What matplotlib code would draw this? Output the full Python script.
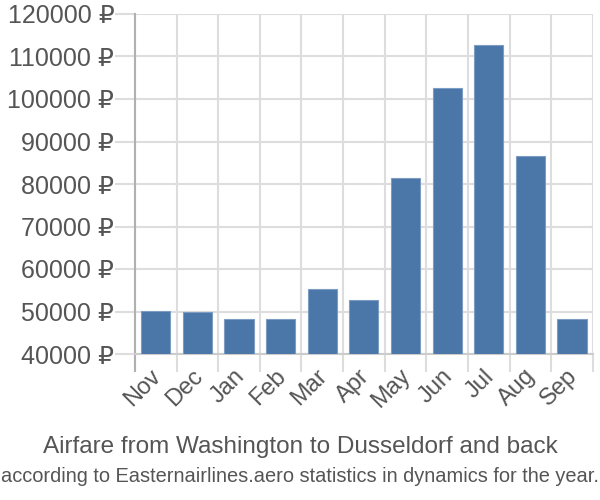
import matplotlib.pyplot as plt
import numpy as np
from matplotlib.ticker import FixedLocator, FuncFormatter
from matplotlib.transforms import ScaledTranslation

months = ['Nov', 'Dec', 'Jan', 'Feb', 'Mar', 'Apr', 'May', 'Jun', 'Jul', 'Aug', 'Sep']
prices = [50100, 50000, 48200, 48300, 55300, 52700, 81500, 102600, 112800, 86500, 48300]
base = 40000

plt.rcParams['font.family'] = ['Liberation Sans', 'DejaVu Sans']
txt = '#555555'
grid = '#dddddd'

fig = plt.figure(figsize=(6, 5), dpi=100)
ax = fig.add_axes([0.225, 0.292, 0.763, 0.68])

x = np.arange(len(months))
heights = [p - base for p in prices]
ax.bar(x, heights, bottom=base, width=0.7, color='#4a76a8', edgecolor='#7d9cc4',
       linewidth=0.8, zorder=3)

ax.set_xlim(-0.5, len(months) - 0.5)
ax.set_ylim(40000, 120000)
ax.set_yticks(np.arange(40000, 120001, 10000))
ax.yaxis.set_major_formatter(FuncFormatter(lambda v, p: '%d \u20bd' % v))

ax.set_xticks(x)
ax.set_xticklabels(months, rotation=45, ha='right', rotation_mode='anchor')
ax.xaxis.set_minor_locator(FixedLocator(np.arange(-0.5, len(months), 1)))
# tick lengths are in points: 18px -> 13pt, 20px -> 14.4pt
ax.tick_params(axis='x', which='major', length=0, pad=8, labelsize=17, labelcolor=txt)
ax.tick_params(axis='x', which='minor', length=13, color=grid, width=1.5)
ax.tick_params(axis='y', length=14.4, color=grid, width=1.5, labelsize=18,
               labelcolor=txt, pad=0.5)
# nudge the rotated month labels a bit to the left
shift = ScaledTranslation(-6 / 100, 0, fig.dpi_scale_trans)
for lab in ax.get_xticklabels():
    lab.set_transform(lab.get_transform() + shift)

ax.grid(True, axis='y', color=grid, linewidth=1.5, zorder=0)
ax.grid(True, axis='x', which='minor', color=grid, linewidth=1.5, zorder=0)

for s in ['top', 'right']:
    ax.spines[s].set_visible(False)
ax.spines['left'].set_color('#b0b0b0')
ax.spines['left'].set_linewidth(1.5)
ax.spines['left'].set_bounds(36000, 120000)
ax.spines['bottom'].set_color('#cccccc')
ax.spines['bottom'].set_linewidth(1.5)

fig.text(0.5, 0.107, 'Airfare from Washington to Dusseldorf and back', ha='center',
         va='center', fontsize=17.5, color=txt)
fig.text(0.5, 0.047, 'according to Easternairlines.aero statistics in dynamics for the year.',
         ha='center', va='center', fontsize=14.4, color=txt)

fig.savefig('out.png')
